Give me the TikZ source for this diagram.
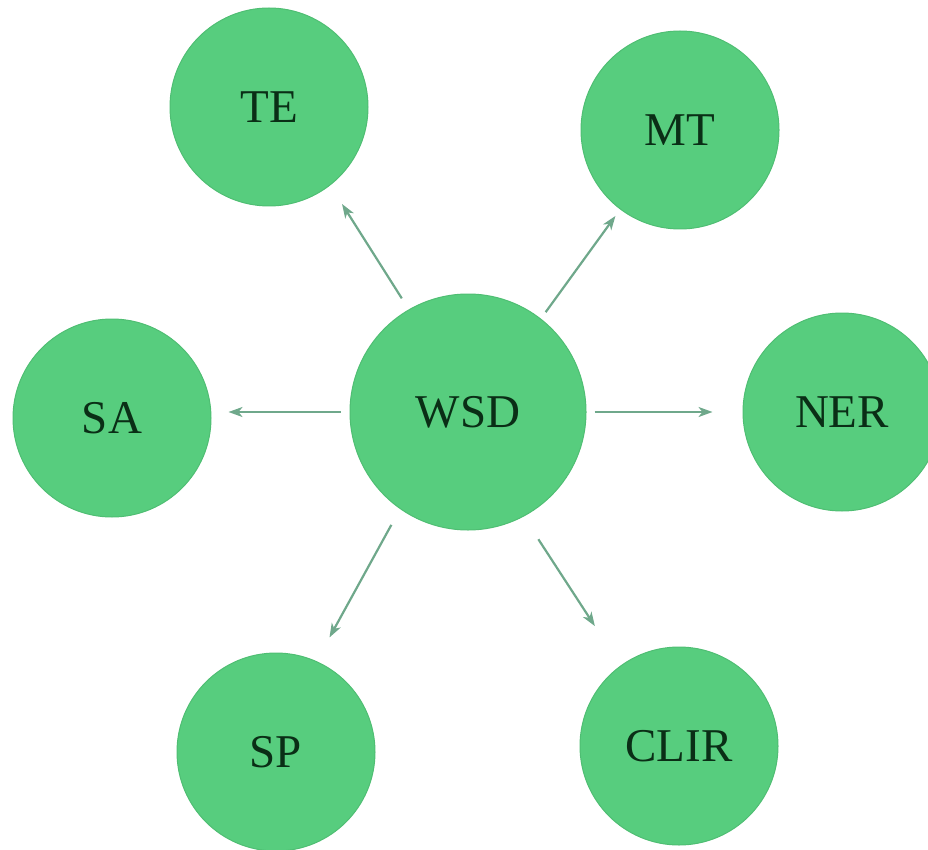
\documentclass[tikz,border=0pt]{standalone}
\usepackage{fontspec}
\setmainfont{Liberation Serif}
\usetikzlibrary{arrows.meta}
\definecolor{nodegreen}{HTML}{57CD7E}
\definecolor{edgegreen}{HTML}{4FBE73}
\definecolor{txtgreen}{HTML}{0A2E16}
\definecolor{arrowcol}{HTML}{6FA88B}
\begin{document}
\begin{tikzpicture}[x=1pt,y=-1pt,
  bubble/.style={circle,fill=nodegreen,draw=edgegreen,line width=1pt,minimum size=198pt,inner sep=0pt,text=txtgreen,font=\fontsize{47}{47}\selectfont},
  big/.style={bubble,minimum size=236pt},
  link/.style={draw=arrowcol,line width=2.2pt,-{Stealth[length=14pt,width=10pt,inset=4pt]}}]
\useasboundingbox (0,0) rectangle (928,850);
\node[bubble] (te) at (269,107) {TE};
\node[bubble] (mt) at (680,130) {MT};
\node[bubble] (sa) at (112,418) {SA};
\node[big] (wsd) at (468,412) {WSD};
\node[bubble] (ner) at (842,412) {NER};
\node[bubble] (sp) at (276,752) {SP};
\node[bubble] (clir) at (679,746) {CLIR};
\draw[link,shorten <=9pt,shorten >=17pt] (wsd.west) -- (wsd.west -| sa.east);
\draw[link,shorten <=8pt,shorten >=30pt] (wsd.east) -- (wsd.east -| ner.west);
\draw[link,shorten <=13pt,shorten >=22pt] (wsd.120) -- (te.-52);
\draw[link,shorten <=8pt,shorten >=8pt] (wsd.52) -- (mt.-127);
\draw[link,shorten <=18pt,shorten >=27pt] (wsd.-125) -- (sp.66);
\draw[link,shorten <=27pt,shorten >=47pt] (wsd.-62) -- (clir.126);
\end{tikzpicture}
\end{document}
